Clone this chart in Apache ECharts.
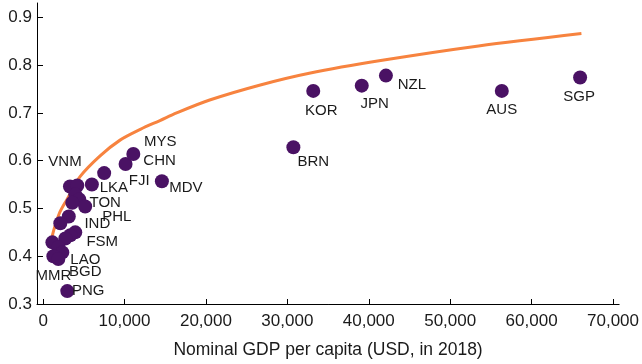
<!DOCTYPE html>
<html>
<head>
<meta charset="utf-8">
<script src="https://cdn.jsdelivr.net/npm/echarts@6/dist/echarts.min.js"></script>
<style>
  html, body { margin: 0; padding: 0; background: #fff; }
  #chart { width: 642px; height: 364px; }
</style>
</head>
<body>
<div id="chart"></div>
<script>
// Economies: nominal GDP per capita (USD, 2018) against index score
const codes = [
  'VNM', '', '', '', '', 'TON', 'PHL', 'IND', 'FSM', '', '', '', '', 'LAO', 'MMR', 'BGD', 'PNG',
  'LKA', 'FJI', 'CHN', 'MYS', 'MDV', 'BRN', 'KOR', 'JPN', 'NZL', 'AUS', 'SGP'
];
const gdp = [
  3300, 4200, 3950, 4440, 3580, 5170, 3155, 2115, 3950, 3340, 2730, 1140, 1870, 2360, 1260, 1870, 2970,
  5990, 7500, 10130, 11080, 14590, 30740, 33180, 39140, 42110, 56340, 65960
];
const score = [
  0.546, 0.548, 0.529, 0.519, 0.512, 0.504, 0.483, 0.469, 0.450, 0.444, 0.437, 0.429, 0.419, 0.408, 0.400, 0.394, 0.327,
  0.550, 0.574, 0.593, 0.614, 0.557, 0.628, 0.746, 0.757, 0.778, 0.746, 0.774
];

// Fitted frontier
const frontierGdp = [1100, 1300, 2000, 2935, 4560, 7000, 9450, 12000, 14350, 16400, 20460, 26570, 32690, 41660, 53490, 66120];
const frontierScore = [0.440, 0.454, 0.490, 0.519, 0.567, 0.610, 0.643, 0.666, 0.684, 0.700, 0.727, 0.758, 0.783, 0.810, 0.840, 0.866];

const xTicks = [0, 10000, 20000, 30000, 40000, 50000, 60000, 70000];
const yTicks = [0.3, 0.4, 0.5, 0.6, 0.7, 0.8, 0.9];

// Label placement relative to each dot's centre (px)
const labelOffset = {
  VNM: [-5, -25], TON: [20, -4], PHL: [48, 0], IND: [37, 1], FSM: [27, 10],
  LAO: [23, 7], MMR: [0, 20], BGD: [27, 13], PNG: [21, 0], LKA: [22, 3],
  FJI: [35, 8], CHN: [34, -3], MYS: [27, -12], MDV: [24, 7], BRN: [20, 15],
  KOR: [8, 20], JPN: [13, 18], NZL: [26, 9], AUS: [0, 19], SGP: [-1, 19]
};

const FONT = '"Liberation Sans", Arial, sans-serif';
const INK = '#1a1a1a';

const points = codes.map((c, i) => ({
  name: c,
  value: [gdp[i], score[i]],
  label: c ? { show: true, offset: labelOffset[c] } : { show: false }
}));
const frontier = frontierGdp.map((g, i) => [g, frontierScore[i]]);

const chart = echarts.init(document.getElementById('chart'), null, { renderer: 'canvas' });
chart.setOption({
  animation: false,
  backgroundColor: '#ffffff',
  textStyle: { fontFamily: FONT },
  grid: { left: 37, right: 21, top: 3, bottom: 59, containLabel: false },
  xAxis: {
    type: 'value',
    min: -750,
    max: 70750,
    name: 'Nominal GDP per capita (USD, in 2018)',
    nameLocation: 'middle',
    nameGap: 37,
    nameTextStyle: { fontFamily: FONT, fontSize: 17.5, color: INK },
    axisLine: { show: true, onZero: false, lineStyle: { color: '#000', width: 1 } },
    axisTick: { show: true, inside: true, length: 5, customValues: xTicks, lineStyle: { color: '#000' } },
    axisLabel: {
      customValues: xTicks,
      formatter: v => Number(v).toLocaleString('en-US'),
      fontFamily: FONT, fontSize: 17, color: INK, margin: 9
    },
    splitLine: { show: false }
  },
  yAxis: {
    type: 'value',
    min: 0.3,
    max: 0.93,
    axisLine: { show: true, onZero: false, lineStyle: { color: '#000', width: 1 } },
    axisTick: { show: true, inside: true, length: 6, customValues: yTicks, lineStyle: { color: '#000' } },
    axisLabel: {
      customValues: yTicks,
      formatter: v => Number(v).toFixed(1),
      fontFamily: FONT, fontSize: 17, color: INK, margin: 5
    },
    splitLine: { show: false }
  },
  series: [
    {
      type: 'line',
      data: frontier,
      smooth: 0.3,
      showSymbol: false,
      lineStyle: { color: '#f7833f', width: 3 },
      silent: true,
      z: 1
    },
    {
      type: 'scatter',
      data: points,
      symbol: 'circle',
      symbolSize: 14,
      itemStyle: { color: '#4a1264', opacity: 1 },
      label: {
        position: 'inside',
        formatter: p => p.name,
        fontFamily: FONT,
        fontSize: 15,
        color: INK,
        align: 'center',
        verticalAlign: 'middle'
      },
      emphasis: { disabled: true },
      silent: true,
      z: 2
    }
  ]
});
</script>
</body>
</html>
